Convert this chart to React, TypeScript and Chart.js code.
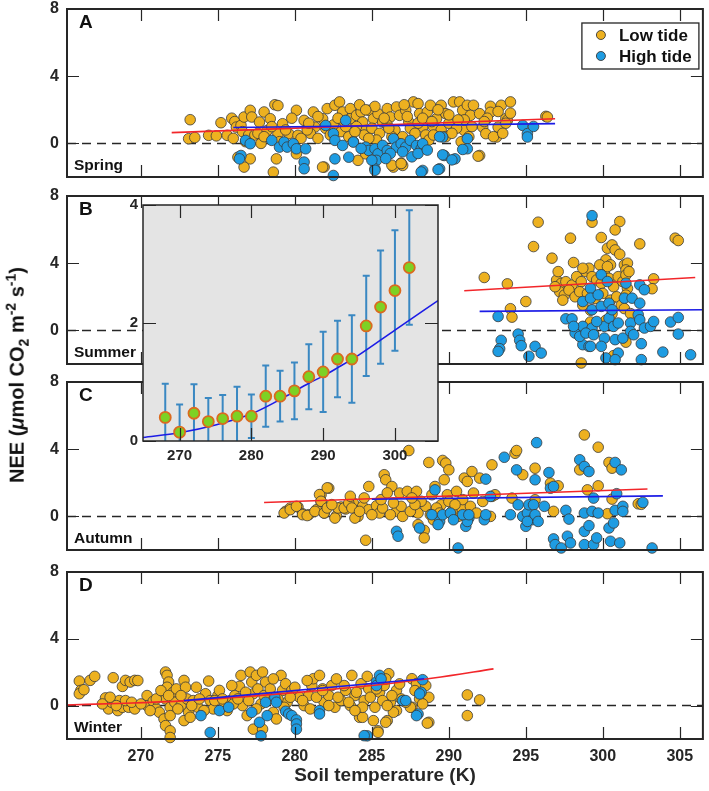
import React, { useEffect, useRef } from 'react';
import { Chart, registerables } from 'chart.js';
Chart.register(...registerables);

type Pt = [number, number];

const FONT = "'Liberation Sans', Arial, Helvetica, sans-serif";
const AXIS = '#262626';
const ORANGE = '#EDB120';
const BLUE = '#1E9CE2';
const EDGE = '#3a3a3a';
const RED_LINE = '#F2262A';
const BLUE_LINE = '#1C1CE6';

const X_MIN = 265.2;
const X_MAX = 306.5;
const Y_MIN = -2;
const Y_MAX = 8;
const xTicks = [270, 275, 280, 285, 290, 295, 300, 305];
const yTicks = [0, 4, 8];

// ---------- Spring ----------
const springLow: Pt[] = [
  [273.2,1.41],[273.1,0.28],[273.5,0.35],[274.4,0.48],[274.9,0.45],[275.2,1.23],[275.6,0.48],[275.9,1.5],[276.1,1.3],[276.2,0.97],
  [276.5,1.07],[276.7,1.57],[277.1,1.97],[277.2,1.57],[276.6,0.7],[277.0,0.5],[277.4,0.5],[277.6,0.6],[277.7,1.27],[278.0,1.87],
  [278.4,1.47],[278.2,0.77],[278.7,2.3],[278.9,2.25],[278.8,-0.92],[278.6,-1.71],[278.9,0.58],[279.2,1.17],[279.6,0.58],[280.1,1.97],
  [280.2,0.48],[280.6,1.37],[281.2,1.87],[281.3,0.97],[281.8,1.47],[281.9,-1.41],[282.1,2.07],[282.6,2.27],[282.9,2.47],[283.1,1.87],
  [283.2,1.27],[283.6,2.07],[283.6,1.47],[284.0,1.67],[284.3,1.87],[284.4,1.27],[284.6,0.77],[284.8,1.97],[285.1,1.47],[285.4,1.77],
  [285.7,1.27],[286.0,2.07],[286.2,1.57],[286.6,2.17],[286.8,1.67],[287.0,-1.31],[286.4,-1.41],[287.2,1.97],[287.4,1.27],[287.7,2.47],
  [288.0,2.37],[288.1,1.77],[288.3,0.97],[288.6,1.87],[288.8,2.27],[289.2,1.47],[289.5,2.27],[289.8,1.77],[290.3,2.47],[290.7,2.47],
  [290.9,1.97],[291.0,0.77],[291.2,2.27],[291.4,1.67],[291.6,2.27],[292.0,1.77],[292.0,-0.72],[292.2,0.97],[292.4,0.58],[292.7,2.21],
  [293.1,0.38],[293.2,0.97],[293.4,2.27],[293.7,1.47],[294.0,2.47],[293.8,1.37],[296.3,1.61],[296.4,1.57],
  [281.0,0.6],[281.5,0.3],[282.0,0.9],[282.5,1.1],[283.0,0.7],[283.5,0.4],[284.0,1.0],[284.5,0.5],[285.0,0.9],[285.5,0.6],
  [286.0,1.1],[286.5,0.8],[287.0,0.4],[287.5,0.9],[288.0,1.2],[288.5,0.5],[289.0,1.0],[289.5,0.8],[290.0,1.2],[290.5,0.9],
  [291.0,1.4],[291.5,1.0],[283.8,0.1],[285.3,0.2],[286.7,0.0],[288.7,0.2],[289.8,0.4],[290.8,0.1],[279.0,0.1],[280.4,0.3],
  [277.8,0.0],[276.8,0.1],[285.2,2.2],[284.2,2.3],[287.1,2.3],[289.3,2.0],
  [276.3,-0.82],[277.1,-0.92],[276.7,-1.41],[280.1,-0.62],[281.8,-1.41],[284.1,-1.01],[284.6,-0.62],[286.9,-1.17],[291.9,-0.76],
  [286.3,-1.3],[286.9,-1.2],[292.7,1.85],[293.2,1.9],[294.0,1.8],[293.7,1.2],[292.9,0.4],[293.5,0.6],[292.5,1.5],
  [276.0,0.3],[278.5,1.0],[279.8,1.5],[280.8,0.8],[281.5,1.6],[282.3,0.5],[283.3,1.0],[284.8,0.3],[285.8,1.5],[286.3,0.4],
  [287.8,0.6],[288.3,1.5],[289.0,0.5],[290.2,0.6],[291.3,0.4],[292.3,1.3],[282.8,1.5],[284.6,2.0],[287.3,1.6],[290.0,1.7],
  [278.0,0.4],[279.4,0.8],[280.9,1.2],[283.9,0.7],[286.1,0.9],[288.9,1.3],[290.6,1.4],
];
const springHigh: Pt[] = [
  [276.5,-0.72],[276.8,0.18],[277.1,-0.02],[276.4,-0.92],[278.5,0.18],[279.0,-0.22],[279.3,0.08],[279.5,-0.22],[279.9,-0.02],[280.1,-0.32],
  [280.7,-0.32],[280.6,-1.11],[280.6,-1.51],[282.0,1.07],[282.5,0.58],[282.6,0.18],[282.5,-1.91],[282.6,-0.92],[283.1,-0.12],[283.3,1.37],
  [283.5,-0.82],[283.8,0.08],[284.6,-0.22],[284.8,-0.42],[285.2,-0.32],[285.4,-0.62],[285.3,-1.01],[285.2,-1.51],[285.7,-0.12],[286.0,-0.42],
  [286.4,0.28],[286.6,-0.22],[286.9,-0.02],[287.2,-0.22],[287.5,0.18],[287.9,-0.12],[288.2,-0.32],[288.3,-0.02],[288.3,-1.61],[289.4,-1.51],
  [289.6,0.38],[289.7,-0.72],[290.4,-0.92],[291.2,0.28],[291.2,-0.32],[294.8,1.07],[295.1,0.58],[295.5,1.01],[295.1,0.38],[289.4,0.4],
  [289.6,-0.68],[290.2,-0.98],[289.3,-1.56],[288.2,-1.7],[285.2,-1.6],[290.9,-0.36],[285.0,-1.0],[286.2,-0.6],[287.0,-0.5],[287.6,-0.8],
  [288.0,-0.6],[288.6,-0.4],[285.9,-0.9],[284.3,-0.3],
];
const springRedFit: Pt[] = [[272.0,0.64],[296.9,1.47]];
const springBlueFit: Pt[] = [[276.0,0.95],[296.9,1.18]];

// ---------- Summer ----------
const summerLow: Pt[] = [
  [292.3,3.15],[293.8,2.77],[295.0,1.72],[294.0,1.29],[294.1,0.79],[295.8,6.44],[295.5,4.99],[296.7,4.30],[297.9,5.49],[298.1,4.04],
  [299.3,6.44],[301.1,6.48],[300.8,5.98],[299.9,5.53],[300.3,4.89],[300.6,5.09],[300.8,4.79],[301.1,4.53],[300.2,4.20],[300.5,3.90],
  [302.4,5.15],[304.7,5.49],[304.9,5.35],[301.4,3.90],[301.6,4.00],[301.5,3.60],[303.3,3.07],[303.2,2.48],[298.6,-1.94],
  [297.0,3.0],[297.3,2.8],[297.6,2.9],[298.0,2.7],[298.3,3.2],[298.6,2.9],[298.9,3.5],[299.1,3.7],[299.3,3.2],[299.6,3.0],
  [299.9,2.8],[300.1,3.4],[300.4,3.1],[300.7,2.6],[301.0,3.2],[301.3,2.9],[301.5,3.3],[301.6,2.5],[297.2,2.3],[297.5,2.1],
  [297.8,2.4],[298.2,2.0],[298.5,2.3],[299.0,2.2],[299.5,1.9],[300.0,2.2],[300.5,1.8],[300.9,2.0],[301.2,1.5],[301.4,1.3],
  [296.9,2.6],[297.1,3.5],[298.7,3.7],[299.8,3.9],[300.3,3.8],[301.7,3.5],[297.4,1.8],[299.2,1.2],[300.6,1.0],[298.8,0.2],
  [299.4,-0.2],[300.2,0.6],[301.5,-0.7],[300.7,-1.5],[301.5,2.1],[301.8,1.0],[299.2,0.5],[298.7,1.5],
];
const summerHigh: Pt[] = [
  [299.3,6.83],[293.2,0.83],[293.4,-0.59],[293.3,-1.09],[293.2,-1.25],[294.5,-0.22],[294.6,-0.59],[294.7,-0.91],[295.2,-1.54],[295.6,-0.95],
  [296.0,-1.35],[297.6,0.69],[298.0,0.69],[298.2,-0.16],[298.7,1.72],[298.7,0.24],[298.7,-0.85],[299.2,2.51],[299.2,1.92],[299.3,1.23],
  [299.3,0.14],[299.1,-0.95],[299.7,2.12],[299.9,3.31],[299.9,1.43],[300.1,0.24],[300.1,-0.46],[300.2,-1.64],[300.3,2.91],[300.4,1.62],
  [300.4,0.73],[300.6,1.23],[300.7,0.24],[300.8,-0.55],[301.0,0.44],[301.0,-1.35],[301.3,-0.46],[301.4,1.92],[301.5,2.81],[301.8,0.44],
  [301.8,-0.06],[301.9,1.92],[302.0,-0.26],[302.3,0.93],[302.4,2.71],[302.4,1.62],[302.4,0.63],[302.5,-0.79],[302.5,-1.74],[302.7,2.42],
  [302.7,0.14],[303.1,0.24],[303.3,0.53],[303.9,-1.29],[304.4,0.50],[304.9,0.77],[304.9,-0.22],[305.7,-1.45],[298.1,0.24],[298.5,-0.36],
  [298.9,-0.16],[299.4,-0.26],[299.6,0.53],[300.8,-1.74],[299.2,-0.95],[299.9,-0.95],
];
const summerRedFit: Pt[] = [[291.0,2.36],[306.0,3.15]];
const summerBlueFit: Pt[] = [[292.0,1.13],[306.5,1.23]];

// ---------- Autumn ----------
const autumnLow: Pt[] = [
  [279.4,0.30],[279.7,0.50],[280.2,0.56],[280.5,0.16],[280.9,0.10],[281.4,0.40],[281.7,1.29],[281.7,0.89],[282.2,1.68],[281.9,0.20],
  [282.7,0.04],[283.0,0.56],[283.3,0.44],[283.8,0.79],[284.1,0.00],[284.4,0.60],[284.8,1.78],[284.8,0.40],[284.6,-1.42],[285.3,0.63],
  [285.5,0.20],[285.8,2.48],[285.9,2.18],[286.3,1.78],[286.6,0.30],[286.8,1.39],[287.0,0.00],[287.3,1.49],[287.4,3.92],[287.9,1.49],
  [288.0,-0.49],[288.4,-0.83],[288.4,-1.28],[288.0,0.20],[288.5,0.60],[288.7,3.21],[288.9,1.29],[289.1,1.78],[289.6,3.33],[289.8,3.17],
  [290.0,2.77],[289.7,2.18],[289.9,1.29],[289.5,0.69],[290.0,0.89],[290.5,1.49],[290.6,0.00],[290.8,0.50],[291.0,2.28],[291.2,2.08],
  [291.5,2.67],[291.6,1.39],[292.0,2.28],[292.2,0.89],[292.7,0.00],[292.8,3.07],[292.8,1.19],[293.0,1.29],[294.1,1.09],[294.3,3.76],
  [294.4,3.92],[294.8,2.48],[295.6,2.87],[295.6,0.99],[296.6,1.98],[296.8,0.30],[297.1,1.82],[298.8,4.85],[298.5,2.77],[299.0,1.58],
  [299.7,4.12],[299.7,1.82],[300.4,3.21],[300.6,2.87],[300.6,1.03],[300.3,0.16],[302.3,0.75],[302.5,0.72],
  [279.3,0.2],[279.7,0.4],[280.1,0.6],[280.5,0.1],[280.8,0.05],[281.3,0.3],[281.6,1.3],[282.1,1.7],[281.7,0.9],[281.9,0.2],
  [282.1,0.5],[282.6,-0.1],[282.8,0.5],[283.2,0.5],[283.5,0.8],[283.7,0.5],[283.9,-0.1],
  [284.2,0.3],[285.0,0.1],[285.7,0.5],[286.2,0.1],[286.9,0.6],[287.5,0.3],[288.2,0.9],[288.8,0.1],[289.2,0.5],[289.4,0.2],
  [290.2,0.3],[290.9,1.0],[291.4,0.6],[291.8,0.2],[285.6,1.0],[286.4,0.8],[287.8,0.7],[289.0,-0.2],[290.4,0.7],[283.6,1.2],
  [284.5,1.1],[286.0,1.4],[287.6,1.1],[282.4,0.7],
];
const autumnHigh: Pt[] = [
  [286.6,-0.89],[286.7,-1.18],[288.1,-0.69],[289.1,1.58],[289.4,-0.30],[289.3,-0.49],[288.9,0.10],[289.6,0.10],[290.1,0.20],[290.6,-1.88],
  [291.1,-0.59],[291.3,-0.10],[291.2,-0.30],[292.3,-0.20],[292.4,0.10],[292.4,2.22],[292.7,1.19],[293.6,3.52],[294.0,0.10],[294.4,2.77],
  [294.5,0.69],[294.8,0.00],[295.1,0.20],[295.2,0.69],[295.4,-0.20],[295.0,-0.59],[295.1,-0.30],[295.5,0.69],[295.6,0.10],[295.7,4.39],
  [295.6,2.18],[295.8,-0.30],[296.2,0.60],[296.5,2.61],[296.6,1.68],[296.8,1.78],[296.8,-1.34],[296.9,-1.68],[297.3,-1.88],[297.6,0.36],
  [297.7,-1.18],[297.8,-0.16],[297.9,-1.58],[298.5,3.37],[298.8,2.97],[298.8,0.20],[298.8,-0.89],[298.8,-1.68],[299.1,2.67],[299.1,-0.55],
  [299.3,0.30],[299.4,1.09],[299.4,-1.68],[299.6,-1.28],[299.7,0.20],[300.4,-0.69],[300.5,-1.48],[300.7,-0.39],[300.8,0.36],[300.8,3.21],
  [300.9,1.35],[301.1,-1.58],[301.2,2.77],[301.3,0.60],[301.3,0.30],[302.6,0.83],[303.2,-1.88],[290.9,0.10],[291.3,0.10],[290.3,-0.20],
];
const autumnRedFit: Pt[] = [[278.0,0.83],[302.9,1.63]];
const autumnBlueFit: Pt[] = [[285.0,1.02],[303.9,1.22]];

// ---------- Winter ----------
const winterLow: Pt[] = [
  [266.0,1.47],[266.1,0.91],[266.0,0.71],[266.3,0.95],[266.7,1.51],[267.0,1.75],[268.2,1.67],[268.8,1.15],[269.0,1.51],[269.3,1.41],
  [269.6,1.51],[269.8,1.5],[267.7,0.46],[267.9,-0.20],[268.1,0.20],[268.5,-0.30],[268.6,0.30],[268.8,-0.10],[269.2,-0.10],[269.6,-0.20],
  [270.4,0.60],[270.4,0.00],[270.8,0.26],[271.0,-0.20],[271.2,-0.40],[271.4,0.71],[271.6,2.01],[271.7,1.81],[271.8,1.41],[271.7,1.10],
  [271.6,0.40],[271.5,-0.80],[271.6,-1.20],[271.9,-0.10],[271.9,-0.60],[271.9,-1.51],[271.9,-1.91],[272.1,0.80],[272.2,0.20],[272.3,1.00],
  [272.6,0.00],[272.8,1.51],[272.8,-0.90],[272.9,1.10],[273.0,0.40],[273.1,-0.40],[273.2,-0.70],[273.4,0.30],[273.7,-0.10],[274.2,0.71],
  [274.4,1.47],[274.5,0.30],[274.7,-0.20],[275.0,0.60],[275.1,0.91],[275.4,-0.10],[275.8,0.30],[276.1,0.60],[276.4,1.15],[276.5,1.81],
  [276.6,0.00],[276.9,-0.60],[277.1,2.01],[277.2,1.41],[277.3,0.71],[277.3,-1.41],[277.5,1.81],[277.6,1.00],[277.8,0.10],[277.9,2.01],
  [277.9,-1.41],[278.1,1.41],[278.3,0.40],[278.6,-0.40],[278.8,-0.80],[279.1,1.81],[279.2,0.91],[279.4,1.31],[279.5,0.20],[279.8,0.91],
  [280.3,0.50],[280.6,0.00],[280.9,0.60],[281.1,1.20],[281.2,1.61],[281.6,1.81],[281.8,1.00],[281.9,0.20],[282.2,0.60],[282.4,1.20],
  [282.6,-0.10],[283.0,0.30],[283.3,0.91],[283.6,0.00],[283.7,1.81],[283.9,0.60],[284.2,-0.70],[284.3,1.31],[284.5,0.30],[284.7,1.75],
  [284.8,1.00],[285.1,-0.90],[285.2,-0.10],[285.4,-1.51],[285.5,0.80],[285.8,1.20],[286.0,-0.90],[286.1,1.91],[286.2,0.20],[286.6,0.91],
  [286.6,-0.30],[286.9,0.40],[287.6,1.61],[287.6,-0.10],[287.9,1.31],[288.1,0.40],[288.7,-1.00],[288.7,0.50],[291.2,0.64],[292.0,0.34],
  [291.2,-0.60],[288.6,-1.05],[285.4,-1.60],[285.9,-1.00],[286.4,-0.40],[284.4,-0.70],[287.5,-0.10],
  [267.5,0.1],[268.0,0.5],[268.4,0.0],[269.0,0.3],[269.4,0.2],[270.0,0.1],[270.6,-0.3],[271.0,0.4],[271.3,0.9],[271.8,0.6],
  [272.4,-0.2],[272.6,0.6],[273.3,0.0],[273.8,0.4],[274.1,-0.3],[274.8,0.3],[275.3,0.4],[275.6,-0.3],[276.0,0.1],[276.3,0.4],
  [276.8,0.8],[277.0,0.3],[277.5,-0.2],[278.0,0.6],[278.4,1.0],[278.9,0.4],[279.3,-0.1],[279.7,0.5],[280.0,1.1],[280.5,0.3],
  [281.0,-0.2],[281.4,0.5],[281.8,0.9],[282.2,0.0],[282.8,0.5],[283.2,1.2],[283.5,0.2],[284.0,0.8],[284.4,-0.1],[284.9,0.5],
  [285.3,1.0],[285.7,0.3],[286.3,0.6],[286.8,1.3],[287.2,0.2],[287.8,0.9],[288.3,0.1],[288.5,1.2],[286.0,0.0],[283.9,-0.3],
  [280.8,1.5],[278.6,1.6],[282.7,1.6],[285.9,1.6],[275.9,1.2],[273.6,1.1],
];
const winterHigh: Pt[] = [
  [273.9,-0.60],[274.5,-1.61],[275.1,-0.30],[275.7,-0.10],[277.2,-0.40],[277.7,-1.00],[277.8,-1.81],[278.1,0.20],[278.2,-0.60],[278.7,0.50],
  [278.8,0.20],[279.4,-0.34],[279.6,-0.50],[279.8,-0.60],[280.1,-0.86],[280.1,-1.10],[280.1,-1.41],[281.6,-0.30],[281.6,-0.50],[284.7,-1.81],
  [285.3,1.41],[285.5,1.81],[287.0,0.30],[287.2,0.30],[288.0,-0.50],[288.2,0.80],[288.3,1.55],[285.3,1.2],[288.1,0.7],[287.9,-0.6],
  [284.5,-1.8],[285.6,1.6],
];
const winterRedFit: Pt[] = [[265.2,0.04],[269,0.14],[273,0.3],[277,0.55],[281,0.85],[285,1.2],[289,1.65],[292.9,2.2]];
const winterBlueFit: Pt[] = [[272.8,0.3],[288.4,1.61]];

// ---------- Inset ----------
const insetXTicks = [270, 280, 290, 300];
const insetYTicks = [0, 2, 4];
const insetT = [268, 270, 272, 274, 276, 278, 280, 282, 284, 286, 288, 290, 292, 294, 296, 298, 300, 302];
const insetMean = [0.40, 0.15, 0.47, 0.33, 0.38, 0.42, 0.42, 0.76, 0.76, 0.85, 1.09, 1.17, 1.39, 1.39, 1.95, 2.27, 2.55, 2.94];
const insetErr = [0.57, 0.47, 0.49, 0.40, 0.40, 0.50, 0.37, 0.52, 0.43, 0.48, 0.55, 0.68, 0.65, 0.74, 0.85, 0.96, 1.02, 0.97];
const insetCurveT = [264.9, 270, 275, 280, 285, 288, 290, 292, 295, 300, 306];
const insetCurveV = [0.06, 0.14, 0.27, 0.46, 0.77, 0.98, 1.10, 1.24, 1.46, 1.88, 2.38];

const toXY = (arr: Pt[]) => arr.map(([x, y]) => ({ x, y }));

type PanelSpec = {
  top: number; bottom: number; letter: string; season: string;
  low: Pt[]; high: Pt[]; redFit: Pt[]; blueFit: Pt[]; showX: boolean; legend: boolean;
};

const panels: PanelSpec[] = [
  { top: 9, bottom: 177, letter: 'A', season: 'Spring', low: springLow, high: springHigh, redFit: springRedFit, blueFit: springBlueFit, showX: false, legend: true },
  { top: 196, bottom: 364, letter: 'B', season: 'Summer', low: summerLow, high: summerHigh, redFit: summerRedFit, blueFit: summerBlueFit, showX: false, legend: false },
  { top: 382, bottom: 550, letter: 'C', season: 'Autumn', low: autumnLow, high: autumnHigh, redFit: autumnRedFit, blueFit: autumnBlueFit, showX: false, legend: false },
  { top: 572, bottom: 739, letter: 'D', season: 'Winter', low: winterLow, high: winterHigh, redFit: winterRedFit, blueFit: winterBlueFit, showX: true, legend: false },
];

const PAD = 10;
const PAGE_H = 791;
const canvasGeom = (p: PanelSpec) => {
  const top = p.top - PAD;
  const height = p.showX ? PAGE_H - top : p.bottom - p.top + 2 * PAD;
  return { top, height };
};

function framePlugin(spec: {
  xt: number[]; yt: number[]; len: number; width: number; letter?: string; season?: string; legend?: boolean;
}) {
  return {
    id: 'frame' + Math.random().toString(36).slice(2),
    afterDatasetsDraw(chart: any) {
      const { ctx, chartArea: a, scales } = chart;
      ctx.save();
      ctx.strokeStyle = AXIS;
      ctx.lineWidth = 1.2;
      ctx.beginPath();
      for (const v of spec.xt) {
        const px = Math.round(scales.x.getPixelForValue(v)) + 0.5;
        ctx.moveTo(px, a.top); ctx.lineTo(px, a.top + spec.len);
        ctx.moveTo(px, a.bottom); ctx.lineTo(px, a.bottom - spec.len);
      }
      for (const v of spec.yt) {
        const py = Math.round(scales.y.getPixelForValue(v)) + 0.5;
        ctx.moveTo(a.left, py); ctx.lineTo(a.left + spec.len, py);
        ctx.moveTo(a.right, py); ctx.lineTo(a.right - spec.len, py);
      }
      ctx.stroke();
      ctx.lineWidth = spec.width;
      ctx.strokeRect(a.left, a.top, a.right - a.left, a.bottom - a.top);
      ctx.fillStyle = '#111';
      if (spec.letter) {
        ctx.font = `bold 19px ${FONT}`;
        ctx.textAlign = 'left'; ctx.textBaseline = 'middle';
        ctx.fillText(spec.letter, a.left + 12, a.top + 14);
      }
      if (spec.season) {
        ctx.font = `bold 15.5px ${FONT}`;
        ctx.textAlign = 'left'; ctx.textBaseline = 'middle';
        ctx.fillText(spec.season, a.left + 7, a.bottom - 11.5);
      }
      if (spec.legend) {
        const bx = a.right - 121, by = a.top + 14, bw = 117, bh = 46;
        ctx.fillStyle = '#fff';
        ctx.fillRect(bx, by, bw, bh);
        ctx.lineWidth = 1.3; ctx.strokeStyle = AXIS;
        ctx.strokeRect(bx, by, bw, bh);
        const items: [string, string][] = [[ORANGE, 'Low tide'], [BLUE, 'High tide']];
        items.forEach(([c, t], i) => {
          const cy = by + 12 + i * 21;
          ctx.beginPath();
          ctx.arc(bx + 19, cy, 4.5, 0, Math.PI * 2);
          ctx.fillStyle = c; ctx.fill();
          ctx.lineWidth = 0.9; ctx.strokeStyle = EDGE; ctx.stroke();
          ctx.fillStyle = '#111';
          ctx.font = `bold 17px ${FONT}`;
          ctx.textAlign = 'left'; ctx.textBaseline = 'middle';
          ctx.fillText(t, bx + 37, cy + 1);
        });
      }
      ctx.restore();
    },
  };
}

function makePanel(canvas: HTMLCanvasElement, p: PanelSpec) {
  const lineDs = (data: Pt[], color: string, order: number, curve = false) => ({
    data: toXY(data), showLine: true, borderColor: color, borderWidth: 1.6, pointRadius: 0,
    fill: false, order, cubicInterpolationMode: curve ? 'monotone' : 'default',
  });
  return new Chart(canvas, {
    type: 'scatter',
    data: {
      datasets: [
        lineDs(p.blueFit, BLUE_LINE, 1),
        lineDs(p.redFit, RED_LINE, 2, true),
        { data: toXY(p.high), backgroundColor: BLUE, borderColor: EDGE, borderWidth: 0.8, pointRadius: 5.3, order: 3, clip: false },
        { data: toXY(p.low), backgroundColor: ORANGE, borderColor: EDGE, borderWidth: 0.8, pointRadius: 5.3, order: 4, clip: false },
        { data: [{ x: X_MIN, y: 0 }, { x: X_MAX, y: 0 }], showLine: true, borderColor: AXIS, borderWidth: 1.5, borderDash: [9, 6], pointRadius: 0, order: 5 },
      ] as any,
    },
    options: {
      responsive: false, animation: false, events: [],
      layout: { padding: { top: PAD, bottom: p.showX ? 0 : PAD, left: 0, right: 5 } },
      plugins: { legend: { display: false }, tooltip: { enabled: false } },
      scales: {
        x: {
          type: 'linear', min: X_MIN, max: X_MAX, display: p.showX,
          grid: { display: false, drawTicks: false }, border: { display: false },
          afterBuildTicks: (s: any) => { s.ticks = xTicks.map((v) => ({ value: v })); },
          afterFit: (s: any) => { s.height = p.showX ? 52 : 0; s.paddingLeft = 0; s.paddingRight = 0; },
          ticks: { color: AXIS, font: { family: FONT, size: 16, weight: 'bold' }, padding: 8, maxRotation: 0 },
          title: { display: true, text: 'Soil temperature (K)', color: AXIS, font: { family: FONT, size: 19, weight: 'bold' }, padding: { top: 0, bottom: 4 } },
        },
        y: {
          type: 'linear', min: Y_MIN, max: Y_MAX,
          grid: { display: false, drawTicks: false }, border: { display: false },
          afterBuildTicks: (s: any) => { s.ticks = yTicks.map((v) => ({ value: v })); },
          afterFit: (s: any) => { s.width = 67; s.paddingTop = 0; s.paddingBottom = 0; },
          ticks: { color: AXIS, font: { family: FONT, size: 16, weight: 'bold' }, padding: 8 },
        },
      },
    } as any,
    plugins: [framePlugin({ xt: xTicks, yt: yTicks, len: 12, width: 2, letter: p.letter, season: p.season, legend: p.legend }) as any],
  });
}

const INSET = { left: 100, top: 195, width: 350, height: 275 };

function makeInset(canvas: HTMLCanvasElement) {
  const bg = {
    id: 'insetBg',
    beforeDraw(chart: any) {
      const { ctx, chartArea: a } = chart;
      ctx.save(); ctx.fillStyle = '#E4E4E4';
      ctx.fillRect(a.left, a.top, a.right - a.left, a.bottom - a.top);
      ctx.restore();
    },
    beforeDatasetsDraw(chart: any) {
      const { ctx, chartArea: a, scales } = chart;
      ctx.save();
      ctx.beginPath(); ctx.rect(a.left, a.top, a.right - a.left, a.bottom - a.top); ctx.clip();
      ctx.strokeStyle = '#3A88C2'; ctx.lineWidth = 2;
      ctx.beginPath();
      insetT.forEach((t, i) => {
        const px = scales.x.getPixelForValue(t);
        const y1 = scales.y.getPixelForValue(insetMean[i] + insetErr[i]);
        const y0 = scales.y.getPixelForValue(insetMean[i] - insetErr[i]);
        ctx.moveTo(px, y0); ctx.lineTo(px, y1);
        ctx.moveTo(px - 3.5, y1); ctx.lineTo(px + 3.5, y1);
        ctx.moveTo(px - 3.5, y0); ctx.lineTo(px + 3.5, y0);
      });
      ctx.stroke();
      ctx.restore();
    },
  };
  return new Chart(canvas, {
    type: 'scatter',
    data: {
      datasets: [
        { data: insetT.map((t, i) => ({ x: t, y: insetMean[i] })), backgroundColor: '#7DD124', borderColor: '#DB6A1E', borderWidth: 1.8, pointRadius: 5.5, order: 1, clip: false },
        { data: insetCurveT.map((t, i) => ({ x: t, y: insetCurveV[i] })), showLine: true, borderColor: BLUE_LINE, borderWidth: 1.6, pointRadius: 0, cubicInterpolationMode: 'monotone', order: 2 },
      ] as any,
    },
    options: {
      responsive: false, animation: false, events: [],
      layout: { padding: { top: 10, bottom: 0, left: 0, right: 12 } },
      plugins: { legend: { display: false }, tooltip: { enabled: false } },
      scales: {
        x: {
          type: 'linear', min: 264.9, max: 306,
          grid: { display: false, drawTicks: false }, border: { display: false },
          afterBuildTicks: (s: any) => { s.ticks = insetXTicks.map((v) => ({ value: v })); },
          afterFit: (s: any) => { s.height = 29; s.paddingLeft = 0; s.paddingRight = 0; },
          ticks: { color: AXIS, font: { family: FONT, size: 15, weight: 'bold' }, padding: 6, maxRotation: 0 },
        },
        y: {
          type: 'linear', min: 0, max: 4,
          grid: { display: false, drawTicks: false }, border: { display: false },
          afterBuildTicks: (s: any) => { s.ticks = insetYTicks.map((v) => ({ value: v })); },
          afterFit: (s: any) => { s.width = 43; s.paddingTop = 0; s.paddingBottom = 0; },
          ticks: { color: AXIS, font: { family: FONT, size: 15, weight: 'bold' }, padding: 5 },
        },
      },
    } as any,
    plugins: [bg as any, framePlugin({ xt: insetXTicks, yt: insetYTicks, len: 13, width: 1.5 }) as any],
  });
}

export default function App() {
  const panelRefs = useRef<(HTMLCanvasElement | null)[]>([]);
  const insetRef = useRef<HTMLCanvasElement | null>(null);

  useEffect(() => {
    const charts: Chart[] = [];
    panels.forEach((p, i) => {
      const c = panelRefs.current[i];
      if (c) charts.push(makePanel(c, p));
    });
    if (insetRef.current) charts.push(makeInset(insetRef.current));
    return () => charts.forEach((c) => c.destroy());
  }, []);

  return (
    <div style={{ position: 'absolute', left: 0, top: 0, width: 709, height: 791, background: '#fff', overflow: 'hidden' }}>
      {panels.map((p, i) => {
        const g = canvasGeom(p);
        return (
          <canvas
            key={p.letter}
            ref={(el) => { panelRefs.current[i] = el; }}
            width={709}
            height={g.height}
            style={{ position: 'absolute', left: 0, top: g.top, width: 709, height: g.height }}
          />
        );
      })}
      <canvas
        ref={insetRef}
        width={INSET.width}
        height={INSET.height}
        style={{ position: 'absolute', left: INSET.left, top: INSET.top, width: INSET.width, height: INSET.height }}
      />
      <div
        style={{
          position: 'absolute', left: 17, top: 375, transform: 'translate(-50%, -50%) rotate(-90deg)',
          whiteSpace: 'nowrap', fontFamily: FONT, fontWeight: 'bold', fontSize: 20, color: '#111', lineHeight: 1,
        }}
      >
        NEE (<i>μ</i>mol CO<sub style={{ fontSize: '0.7em' }}>2</sub> m<sup style={{ fontSize: '0.7em' }}>-2</sup> s<sup style={{ fontSize: '0.7em' }}>-1</sup>)
      </div>
    </div>
  );
}
